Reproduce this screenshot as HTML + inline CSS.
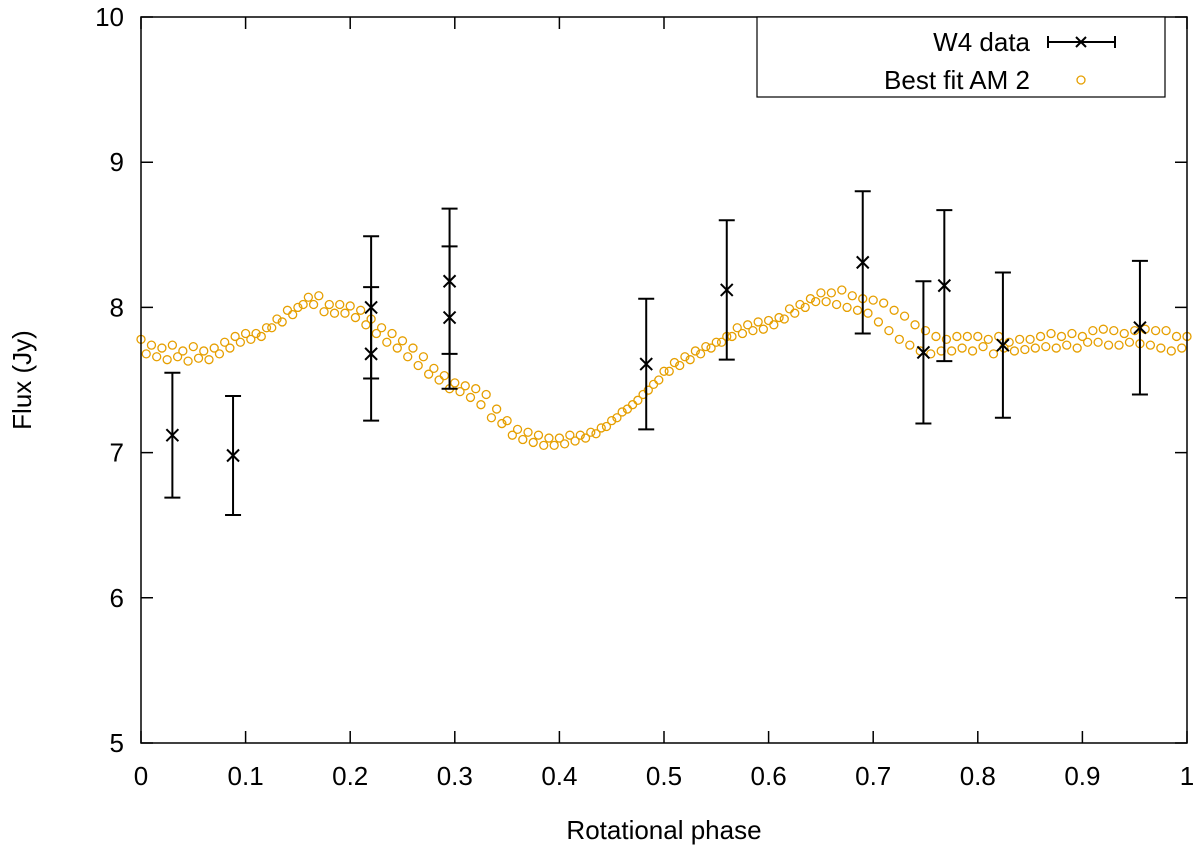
<!DOCTYPE html>
<html><head><meta charset="utf-8"><style>
body{margin:0;background:#fff}
svg{display:block;font-family:"Liberation Sans",Arial,sans-serif}
</style></head><body>
<svg id="chart" width="1200" height="853">
<g id="grid"></g>
<g id="fit"></g>
<g id="data"></g>
<rect x="141" y="17" width="1046" height="726" fill="none" stroke="#000" stroke-width="1.5"/>
<g>
<rect x="757" y="17" width="408" height="80" fill="#fff" stroke="#000" stroke-width="1.2"/>
<text x="1030" y="51" font-size="26" text-anchor="end">W4 data</text>
<line x1="1048" y1="42" x2="1115" y2="42" stroke="#000" stroke-width="2"/>
<line x1="1048" y1="36" x2="1048" y2="48" stroke="#000" stroke-width="2"/>
<line x1="1115" y1="36" x2="1115" y2="48" stroke="#000" stroke-width="2"/>
<path d="M1076,37 L1086,47 M1076,47 L1086,37" stroke="#000" stroke-width="2"/>
<text x="1030" y="89" font-size="26" text-anchor="end">Best fit AM 2</text>
<circle cx="1081" cy="80" r="4" fill="none" stroke="#E69F00" stroke-width="1.3"/>
</g>
<text x="664" y="839" font-size="26" text-anchor="middle">Rotational phase</text>
<text transform="translate(31,380) rotate(-90)" font-size="26" text-anchor="middle">Flux (Jy)</text>
</svg>
<script>
const xTicks=[0,0.1,0.2,0.3,0.4,0.5,0.6,0.7,0.8,0.9,1];
const xTickLabels=["0","0.1","0.2","0.3","0.4","0.5","0.6","0.7","0.8","0.9","1"];
const yTicks=[5,6,7,8,9,10];
const yTickLabels=["5","6","7","8","9","10"];
const dataPhase=[0.03,0.088,0.22,0.22,0.295,0.295,0.483,0.56,0.69,0.748,0.768,0.824,0.955];
const dataFlux=[7.12,6.98,8.0,7.68,8.18,7.93,7.61,8.12,8.31,7.69,8.15,7.74,7.86];
const dataErr=[0.43,0.41,0.49,0.46,0.50,0.49,0.45,0.48,0.49,0.49,0.52,0.50,0.46];
const fitA=[7.78,7.74,7.72,7.74,7.70,7.73,7.70,7.72,7.76,7.80,7.82,7.82,7.86,7.92,7.98,8.00,8.07,8.08,8.02,8.02,8.01,7.98,7.92,7.86,7.82,7.77,7.72,7.66,7.58,7.53,7.48,7.46,7.44,7.40,7.30,7.22,7.16,7.14,7.12,7.10,7.10,7.12,7.12,7.14,7.17,7.22,7.28,7.33,7.40,7.47,7.56,7.62,7.66,7.70,7.73,7.76,7.80,7.86,7.88,7.90,7.91,7.93,7.99,8.02,8.06,8.10,8.10,8.12,8.08,8.06,8.05,8.03,7.98,7.94,7.88,7.84,7.80,7.78,7.80,7.80,7.80,7.78,7.80,7.76,7.78,7.78,7.80,7.82,7.80,7.82,7.80,7.84,7.85,7.84,7.82,7.84,7.85,7.84,7.84,7.80,7.80];
const fitB=[7.68,7.66,7.64,7.66,7.63,7.65,7.64,7.68,7.72,7.76,7.78,7.80,7.86,7.90,7.95,8.02,8.02,7.97,7.96,7.96,7.93,7.88,7.82,7.76,7.72,7.66,7.60,7.54,7.50,7.44,7.42,7.38,7.33,7.24,7.20,7.12,7.09,7.07,7.05,7.05,7.06,7.08,7.10,7.13,7.18,7.24,7.30,7.36,7.43,7.50,7.56,7.60,7.64,7.68,7.72,7.76,7.80,7.82,7.84,7.85,7.88,7.92,7.96,8.00,8.04,8.04,8.02,8.00,7.98,7.96,7.90,7.84,7.78,7.74,7.70,7.68,7.70,7.70,7.72,7.70,7.73,7.68,7.72,7.70,7.71,7.72,7.73,7.72,7.74,7.72,7.76,7.76,7.74,7.74,7.76,7.75,7.74,7.72,7.70,7.72];

const NS="http://www.w3.org/2000/svg";
const X=v=>141+v*1046, Y=v=>743-(v-5)*145.2;
function mk(parent,tag,attrs){const e=document.createElementNS(NS,tag);for(const k in attrs)e.setAttribute(k,attrs[k]);parent.appendChild(e);return e;}
const grid=document.getElementById('grid');
xTicks.forEach((t,i)=>{
  const l=mk(grid,'path',{d:`M${X(t)},743 v-12 M${X(t)},17 v12`,stroke:'#000','stroke-width':1.5});
  
  
  const tx=mk(grid,'text',{x:X(t),y:785,'font-size':26,'text-anchor':'middle'});
  tx.textContent=xTickLabels[i];
  
  
});
yTicks.forEach((t,i)=>{
  const l=mk(grid,'path',{d:`M141,${Y(t)} h12 M1187,${Y(t)} h-12`,stroke:'#000','stroke-width':1.5});
  
  
  const tx=mk(grid,'text',{x:124,y:Y(t)+9,'font-size':26,'text-anchor':'end'});
  tx.textContent=yTickLabels[i];
  
  
});
const fit=document.getElementById('fit');
function pt(p,v){
  const c=mk(fit,'circle',{cx:X(p),cy:Y(v),r:4,fill:'none',stroke:'#E69F00','stroke-width':1.3});
  
  
}
fitA.forEach((v,i)=>pt(i/(fitA.length-1),v));
fitB.forEach((v,i)=>pt((i+0.5)/fitB.length,v));
const dg=document.getElementById('data');
dataPhase.forEach((p,i)=>{
  const x=X(p),y=Y(dataFlux[i]),t=Y(dataFlux[i]+dataErr[i]),b=Y(dataFlux[i]-dataErr[i]);
  const e=mk(dg,'path',{d:`M${x},${t} V${b} M${x-8},${t} h16 M${x-8},${b} h16`,stroke:'#000','stroke-width':2,fill:'none'});
  
  
  const m=mk(dg,'path',{d:`M${x-6},${y-6} L${x+6},${y+6} M${x-6},${y+6} L${x+6},${y-6}`,stroke:'#000','stroke-width':2});
  
  
});
</script>
</body></html>
